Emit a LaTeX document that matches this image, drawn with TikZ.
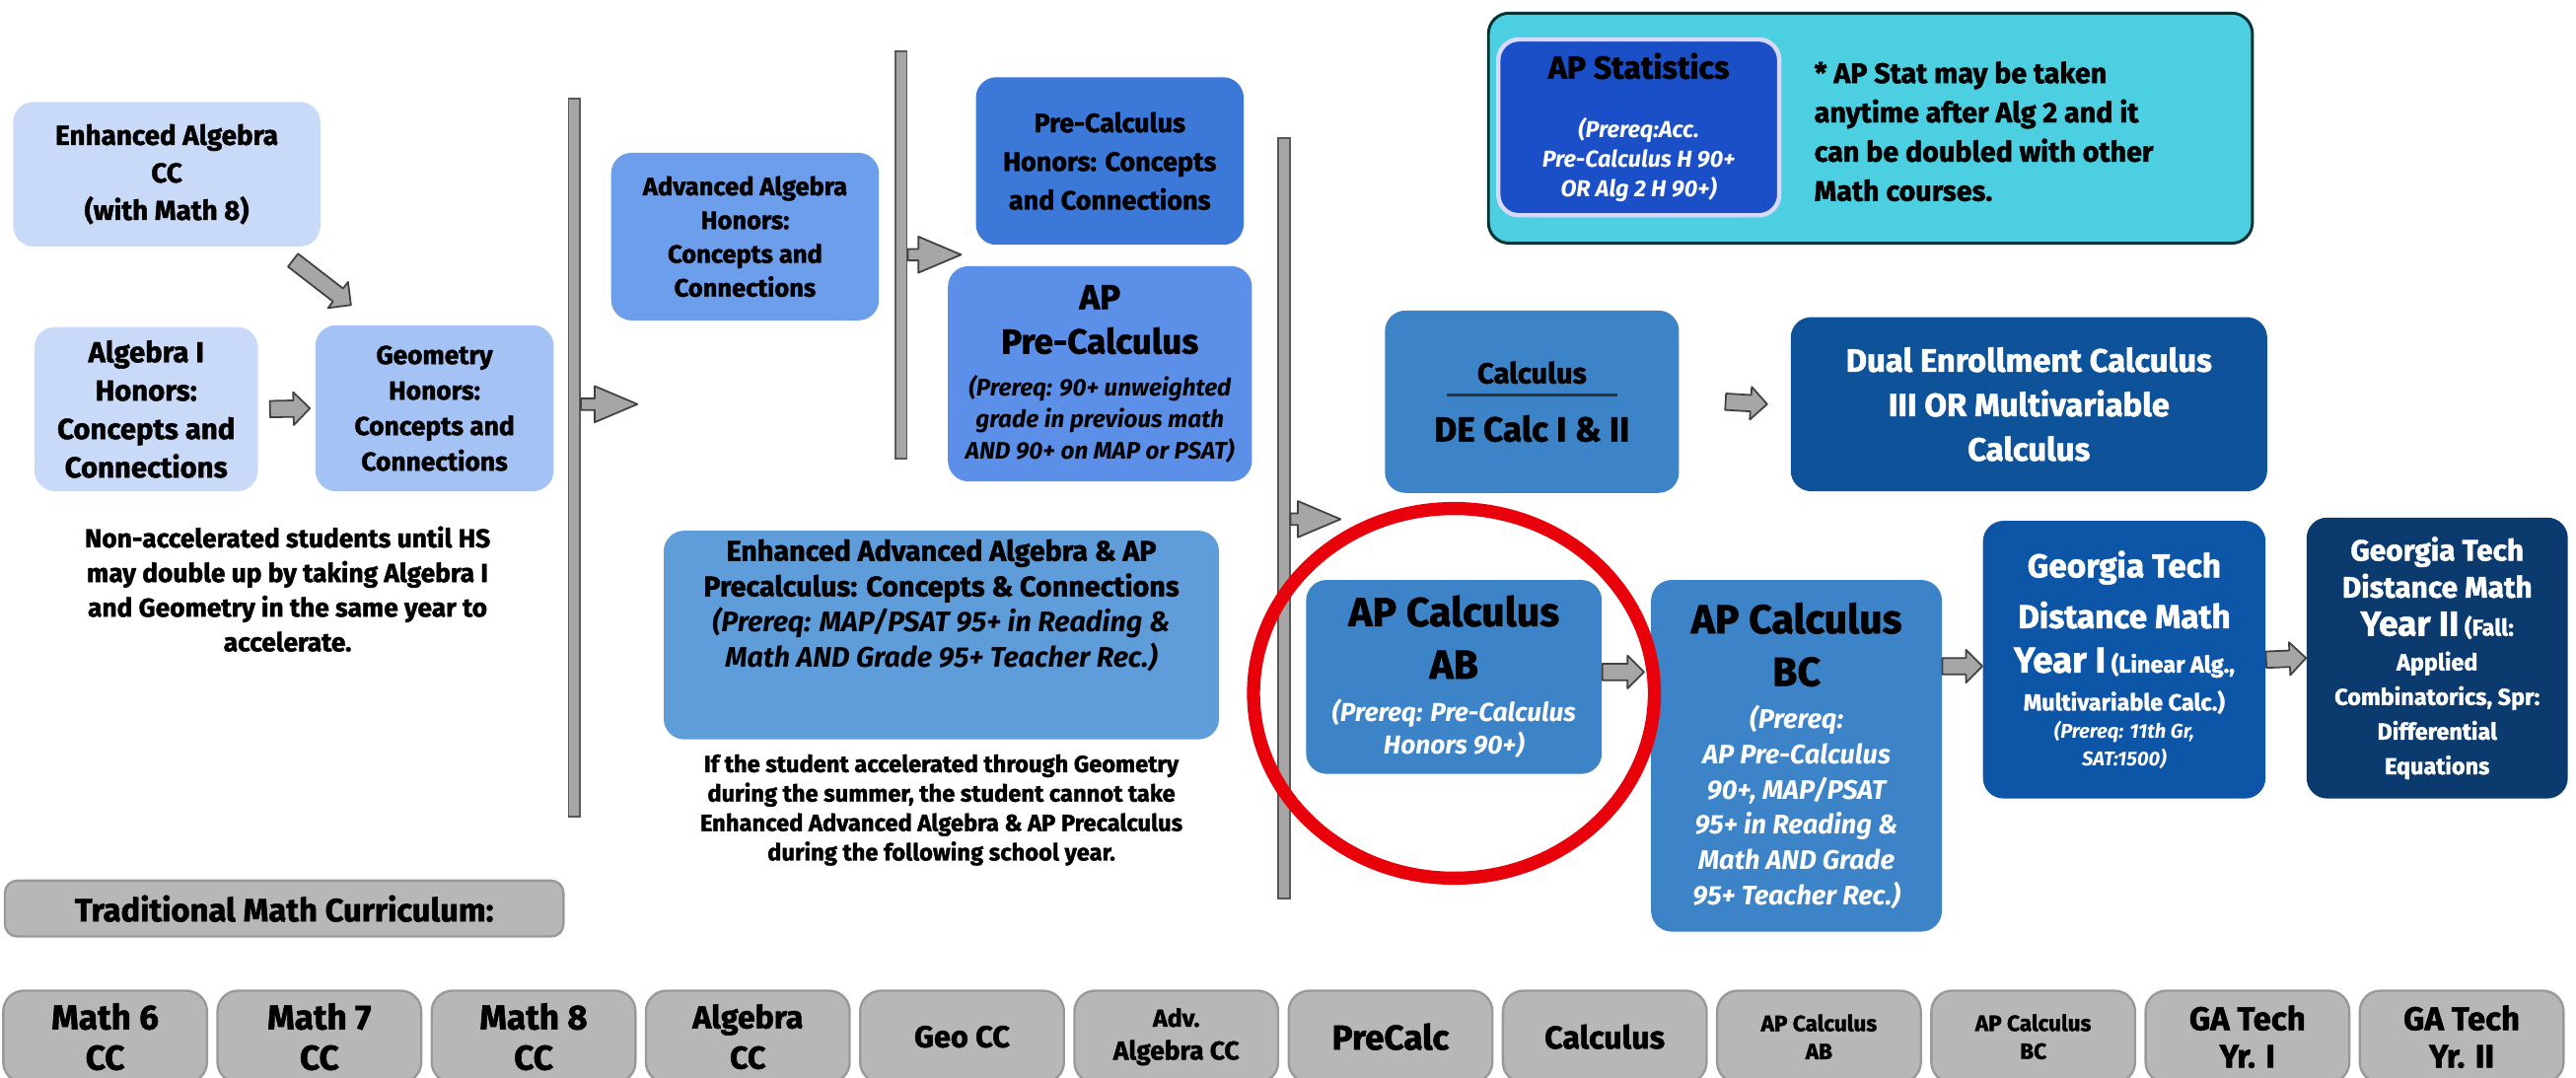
\documentclass[tikz,border=0pt]{standalone}
\usepackage{fontspec}
\setmainfont{Fira Sans}[BoldFeatures={FakeBold=1.5}]
\usetikzlibrary{calc}

\definecolor{paleblue}{HTML}{C9DAF8}
\definecolor{lightcorn}{HTML}{A4C2F4}
\definecolor{cornblue}{HTML}{6D9EEB}
\definecolor{darkcorn}{HTML}{3C78D8}
\definecolor{apcorn}{HTML}{5B8FE8}
\definecolor{skyblue}{HTML}{5F9CDA}
\definecolor{midblue}{HTML}{3D83C8}
\definecolor{deepblue}{HTML}{0E5299}
\definecolor{gtblue}{HTML}{0D55A6}
\definecolor{gtnavy}{HTML}{0A3A6E}
\definecolor{statcyan}{HTML}{4CCFE0}
\definecolor{statblue}{HTML}{1A4FC8}
\definecolor{gradegray}{HTML}{B7B7B7}
\definecolor{ringred}{HTML}{E8000B}

\begin{document}
\begin{tikzpicture}[
        course/.style={rectangle, rounded corners=0.25cm, align=center, inner sep=0pt},
        note/.style={align=center, inner sep=0pt},
        txt/.style 2 args={font=\fontsize{#1}{#2}\selectfont\bfseries},
        itxt/.style 2 args={font=\fontsize{#1}{#2}\selectfont\bfseries\itshape},
        bar/.style={rectangle, draw=black!65, fill=black!35, line width=0.6pt, minimum width=0.14cm, inner sep=0pt},
        grade/.style={course, fill=gradegray, draw=black!40, line width=0.8pt, minimum width=2.48cm, minimum height=1.12cm},
        blockarrow/.style={draw=black!75, fill=black!35, line width=0.6pt, line join=round,
            to path={($(\tikztostart)!0.1cm!90:(\tikztotarget)$) -- ($(\tikztotarget)!0.2236cm!-26.57:(\tikztostart)$)
                -- ($(\tikztotarget)!0.2828cm!-45:(\tikztostart)$) -- (\tikztotarget)
                -- ($(\tikztotarget)!0.2828cm!45:(\tikztostart)$) -- ($(\tikztotarget)!0.2236cm!26.57:(\tikztostart)$)
                -- ($(\tikztostart)!0.1cm!-90:(\tikztotarget)$) -- cycle}},
        bararrow/.style={draw=black!75, fill=black!35, line width=0.6pt, line join=round,
            to path={($(\tikztostart)!0.07cm!90:(\tikztotarget)$) -- ($(\tikztotarget)!0.5247cm!-7.67:(\tikztostart)$)
                -- ($(\tikztotarget)!0.5646cm!-22.93:(\tikztostart)$) -- (\tikztotarget)
                -- ($(\tikztotarget)!0.5646cm!22.93:(\tikztostart)$) -- ($(\tikztotarget)!0.5247cm!7.67:(\tikztostart)$)
                -- ($(\tikztostart)!0.07cm!-90:(\tikztotarget)$) -- cycle}},
        ring/.style={draw=ringred, line width=0.16cm}
    ]
        \useasboundingbox (0,0) rectangle (31.36,-13.12);
        \clip (0,0) rectangle (31.36,-13.12);

        % Middle school start
        \node[course, fill=paleblue, minimum width=3.74cm, minimum height=1.76cm, txt={9.5}{13}] (enh_alg) at (2.03,-2.12)
            {Enhanced Algebra\\CC\\(with Math 8)};
        \node[course, fill=paleblue, minimum width=2.72cm, minimum height=2cm, txt={10}{13.3}] (alg_one) at (1.78,-4.98)
            {Algebra I\\Honors:\\Concepts and\\Connections};
        \node[course, fill=lightcorn, minimum width=2.9cm, minimum height=2.02cm, txt={9}{12.3}] (geometry) at (5.29,-4.97)
            {Geometry\\Honors:\\Concepts and\\Connections};
        \node[note, txt={9}{12}] (non_acc) at (3.5,-7.17)
            {Non-accelerated students until HS\\may double up by taking Algebra I\\and Geometry in the same year to\\accelerate.};

        % Year bars
        \node[bar, minimum height=8.74cm] (bar_one) at (6.99,-5.57) {};
        \node[bar, minimum height=4.96cm] (bar_two) at (10.97,-3.1) {};
        \node[bar, minimum height=9.26cm] (bar_three) at (15.63,-6.31) {};

        % Algebra II level
        \node[course, fill=cornblue, minimum width=3.26cm, minimum height=2.04cm, txt={8.7}{11.7}] (adv_alg) at (9.07,-2.88)
            {Advanced Algebra\\Honors:\\Concepts and\\Connections};
        \node[course, fill=skyblue, minimum width=6.76cm, minimum height=2.54cm, txt={9.8}{12.3}] (enh_adv) at (11.46,-7.73)
            {Enhanced Advanced Algebra \& AP\\Precalculus: Concepts \& Connections\\{\itshape (Prereq: MAP/PSAT 95+ in Reading \&}\\{\itshape Math AND Grade 95+ Teacher Rec.)}\\[6pt]\strut};
        \node[note, txt={8.1}{10.2}] (accel_note) at (11.46,-9.86)
            {If the student accelerated through Geometry\\during the summer, the student cannot take\\Enhanced Advanced Algebra \& AP Precalculus\\during the following school year.};

        % Precalculus level
        \node[course, fill=darkcorn, minimum width=3.26cm, minimum height=2.04cm, txt={9.2}{13.4}] (precalc_h) at (13.51,-1.96)
            {Pre-Calculus\\Honors: Concepts\\and Connections};
        \node[course, fill=apcorn, minimum width=3.7cm, minimum height=2.62cm, itxt={8.3}{10.8}] (ap_precalc) at (13.39,-4.55)
            {{\upshape\fontsize{12}{15}\selectfont AP}\\[4.6pt]{\upshape\fontsize{12}{15}\selectfont Pre-Calculus}\\[4pt](Prereq: 90+ unweighted\\grade in previous math\\AND 90+ on MAP or PSAT)};

        % AP Statistics
        \node[course, fill=statcyan, draw=black!60!teal, line width=1pt, minimum width=9.3cm, minimum height=2.8cm] (stat_frame) at (22.77,-1.56) {};
        \node[course, fill=statblue, draw=blue!15, line width=1.5pt, minimum width=3.42cm, minimum height=2.14cm, itxt={8}{10.2}, text=white] (ap_stat) at (19.95,-1.55)
            {{\upshape\color{black}\fontsize{11}{13}\selectfont AP Statistics}\\[10.3pt](Prereq:Acc.\\Pre-Calculus H 90+\\OR Alg 2 H 90+)};
        \node[note, align=left, anchor=west, txt={9.8}{13.6}] (stat_note) at (22.08,-1.6)
            {* AP Stat may be taken\\anytime after Alg 2 and it\\can be doubled with other\\Math courses.};

        % Calculus level
        \node[course, fill=midblue, minimum width=3.58cm, minimum height=2.22cm, txt={10}{12}] (calc_de) at (18.65,-4.89)
            {Calculus\\[-7.4pt]{\color{black!80}\rule{2.08cm}{1.2pt}}\\[3.5pt]{\fontsize{12}{15}\selectfont DE Calc I \& II}};
        \node[course, fill=deepblue, text=white, minimum width=5.8cm, minimum height=2.12cm, txt={11.2}{15.4}] (dual_enr) at (24.7,-4.92)
            {Dual Enrollment Calculus\\III OR Multivariable\\Calculus};
        \node[course, fill=midblue, minimum width=3.6cm, minimum height=2.36cm, itxt={9}{11.4}, text=white] (ap_ab) at (17.7,-8.24)
            {{\upshape\color{black}\fontsize{14}{16}\selectfont AP Calculus}\\[6.8pt]{\upshape\color{black}\fontsize{14}{16}\selectfont AB}\\[3.4pt](Prereq: Pre-Calculus\\Honors 90+)};
        \node[course, fill=midblue, minimum width=3.54cm, minimum height=4.28cm, itxt={9.3}{12.2}, text=white] (ap_bc) at (21.87,-9.2)
            {{\upshape\color{black}\fontsize{14}{16}\selectfont AP Calculus}\\[6pt]{\upshape\color{black}\fontsize{14}{16}\selectfont BC}\\[2.6pt](Prereq:\\AP Pre-Calculus\\90+, MAP/PSAT\\95+ in Reading \&\\Math AND Grade\\95+ Teacher Rec.)};

        % Georgia Tech
        \node[course, fill=gtblue, text=white, minimum width=3.44cm, minimum height=3.38cm, txt={8}{9.4}] (gt_one) at (25.86,-8.03)
            {{\fontsize{11.4}{14}\selectfont Georgia Tech}\\[4.8pt]{\fontsize{11.4}{14}\selectfont Distance Math}\\[6pt]{\fontsize{12.5}{15}\selectfont Year I} (Linear Alg.,\\[3.7pt]Multivariable Calc.)\\[0.3pt]{\itshape\fontsize{6.9}{8}\selectfont (Prereq: 11th Gr,}\\{\itshape\fontsize{6.9}{8}\selectfont SAT:1500)}};
        \node[course, fill=gtnavy, text=white, minimum width=3.18cm, minimum height=3.42cm, txt={8}{12}] (gt_two) at (29.67,-8.01)
            {{\fontsize{10.2}{13}\selectfont Georgia Tech}\\[0.8pt]{\fontsize{10.2}{13}\selectfont Distance Math}\\[1.2pt]{\fontsize{12}{14}\selectfont Year II} (Fall:\\Applied\\Combinatorics, Spr:\\Differential\\Equations};

        % Traditional sequence
        \node[course, fill=gradegray, draw=black!40, line width=0.8pt, rounded corners=0.15cm, minimum width=6.8cm, minimum height=0.68cm, txt={11.2}{12}] (trad) at (3.46,-11.06)
            {Traditional Math Curriculum:};
        \node[grade, txt={12}{14}] (grade_one) at (1.28,-12.62) {Math 6\\CC};
        \node[grade, txt={12}{14}] (grade_two) at (3.888,-12.62) {Math 7\\CC};
        \node[grade, txt={12}{14}] (grade_three) at (6.496,-12.62) {Math 8\\CC};
        \node[grade, txt={11}{14}] (grade_four) at (9.104,-12.62) {Algebra\\CC};
        \node[grade, txt={10.5}{12}] (grade_five) at (11.712,-12.62) {Geo CC};
        \node[grade, txt={9}{11.4}] (grade_six) at (14.32,-12.62) {{\fontsize{8.5}{10}\selectfont Adv.}\\Algebra CC};
        \node[grade, txt={12}{14}] (grade_seven) at (16.928,-12.62) {PreCalc};
        \node[grade, txt={11}{13}] (grade_eight) at (19.536,-12.62) {Calculus};
        \node[grade, txt={7.7}{9.7}] (grade_nine) at (22.144,-12.62) {AP Calculus\\AB};
        \node[grade, txt={7.7}{9.7}] (grade_ten) at (24.752,-12.62) {AP Calculus\\BC};
        \node[grade, txt={11.3}{13}] (grade_eleven) at (27.36,-12.62) {GA Tech\\Yr. I};
        \node[grade, txt={11.3}{13}] (grade_twelve) at (29.968,-12.62) {GA Tech\\Yr. II};

        % Connections
        \coordinate (tip_one) at (7.76,-4.92);
        \coordinate (tip_two) at (11.7,-3.1);
        \coordinate (tip_three) at (16.32,-6.32);
        \draw[bararrow] (bar_one.east |- tip_one) to (tip_one);
        \draw[bararrow] (bar_two.east |- tip_two) to (tip_two);
        \draw[bararrow] (bar_three.east |- tip_three) to (tip_three);
        \draw[blockarrow] ($(enh_alg.south east)+(-0.34,-0.16)$) to ($(geometry.north west)+(0.44,0.24)$);
        \draw[blockarrow] ([xshift=0.14cm]alg_one.east) to ([xshift=-0.06cm]geometry.west);
        \draw[blockarrow] ([xshift=0.56cm]calc_de.east) to ([xshift=-0.28cm]dual_enr.west);
        \draw[blockarrow] ([yshift=0.06cm]ap_ab.east) to ([xshift=-0.08cm,yshift=0.06cm]ap_ab.east -| ap_bc.west);
        \draw[blockarrow] ([yshift=-0.08cm]ap_bc.east |- gt_one.west) to ([yshift=-0.08cm]gt_one.west);
        \draw[blockarrow] (gt_one.east) to (gt_two.west);

        % Highlight
        \draw[ring] ($(ap_ab.center)+(0,-0.2)$) ellipse [x radius=2.44cm, y radius=2.25cm];

    \end{tikzpicture}
\end{document}
